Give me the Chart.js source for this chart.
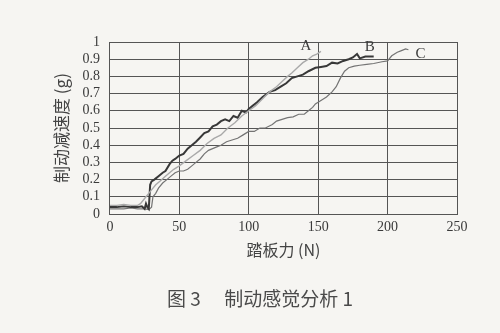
<!DOCTYPE html>
<html>
<head>
<meta charset="utf-8">
<script src="https://cdn.jsdelivr.net/npm/chart.js@4"></script>
<style>
  html, body { margin: 0; padding: 0; background: #f6f5f2; }
  #wrap { width: 500px; height: 333px; }
</style>
</head>
<body>
<div id="wrap"><canvas id="brakeChart"></canvas></div>
<script>
const ctx = document.querySelector("#brakeChart").getContext("2d")

const xTicks = [0, 50, 100, 150, 200, 250]
const yTicks = [0, 0.1, 0.2, 0.3, 0.4, 0.5, 0.6, 0.7, 0.8, 0.9, 1]
const caption = "图 3　 制动感觉分析 1"

// curve A (light grey)
const forceA = [0, 5, 10, 15, 20, 22, 24, 26, 28, 30, 33, 36, 40, 43, 46, 50, 55, 60, 65, 70, 75, 80, 85, 90, 95, 100, 105, 110, 115, 120, 124, 128, 131, 135, 139, 143, 146, 149, 152]
const decelA = [0.05, 0.05, 0.055, 0.05, 0.05, 0.06, 0.08, 0.1, 0.12, 0.14, 0.17, 0.19, 0.22, 0.24, 0.26, 0.28, 0.31, 0.34, 0.37, 0.41, 0.44, 0.46, 0.5, 0.53, 0.57, 0.6, 0.63, 0.67, 0.71, 0.74, 0.77, 0.8, 0.82, 0.85, 0.88, 0.9, 0.92, 0.93, 0.945]

// curve B (dark)
const forceB = [0, 5, 10, 15, 20, 23, 25, 26, 27, 28, 29, 30, 32, 35, 38, 40, 43, 45, 47, 50, 53, 56, 59, 62, 65, 68, 71, 74, 77, 80, 83, 86, 89, 92, 95, 98, 100, 103, 106, 110, 115, 119, 123, 127, 131, 135, 139, 143, 148, 152, 156, 160, 164, 168, 172, 175, 178, 180, 184, 190]
const decelB = [0.04, 0.04, 0.045, 0.04, 0.04, 0.045, 0.03, 0.06, 0.04, 0.03, 0.17, 0.19, 0.2, 0.22, 0.24, 0.25, 0.29, 0.31, 0.32, 0.34, 0.35, 0.38, 0.4, 0.42, 0.445, 0.47, 0.48, 0.51, 0.52, 0.54, 0.55, 0.54, 0.57, 0.56, 0.6, 0.59, 0.61, 0.63, 0.65, 0.68, 0.71, 0.72, 0.74, 0.76, 0.79, 0.8, 0.81, 0.83, 0.85, 0.855, 0.86, 0.88, 0.875, 0.89, 0.9, 0.91, 0.93, 0.905, 0.915, 0.915]

// curve C (mid grey)
const forceC = [0, 5, 10, 15, 20, 25, 28, 30, 31, 33, 35, 38, 41, 44, 47, 50, 53, 56, 59, 62, 65, 68, 71, 74, 77, 80, 84, 88, 92, 96, 100, 104, 108, 112, 117, 120, 124, 128, 132, 136, 140, 143, 146, 148, 152, 156, 160, 163, 166, 169, 172, 176, 180, 185, 190, 196, 200, 203, 207, 210, 213, 215]
const decelC = [0.03, 0.03, 0.03, 0.035, 0.03, 0.03, 0.025, 0.04, 0.1, 0.12, 0.15, 0.18, 0.2, 0.22, 0.24, 0.25, 0.25, 0.26, 0.28, 0.3, 0.32, 0.35, 0.37, 0.38, 0.39, 0.4, 0.42, 0.43, 0.44, 0.46, 0.48, 0.48, 0.5, 0.5, 0.52, 0.54, 0.55, 0.56, 0.565, 0.58, 0.58, 0.6, 0.62, 0.64, 0.66, 0.68, 0.71, 0.74, 0.79, 0.83, 0.85, 0.86, 0.865, 0.87, 0.875, 0.885, 0.89, 0.92, 0.94, 0.95, 0.96, 0.955]

const toPoints = (xs, ys) => xs.map((x, i) => ({ x: x, y: ys[i] }))

const serif = "'Liberation Serif', 'DejaVu Serif', serif"
const cjk = "'Noto Sans CJK SC', 'Noto Sans', sans-serif"

// A / B / C next to the line ends, caption under the chart
const labelOffsets = { A: [-15, -5], B: [-4, -10], C: [12, 4] }
const curveLabels = {
    id: "curveLabels",
    afterDatasetsDraw(chart) {
        const c = chart.ctx
        c.save()
        c.font = "15px " + serif
        c.fillStyle = "#3c3c3c"
        c.textAlign = "center"
        c.textBaseline = "middle"
        chart.data.datasets.forEach((ds, i) => {
            const pts = chart.getDatasetMeta(i).data
            const last = pts[pts.length - 1]
            const off = labelOffsets[ds.label]
            c.fillText(ds.label, last.x + off[0], last.y + off[1])
        })
        c.font = "19px " + cjk
        c.fillStyle = "#4a4a4a"
        c.fillText(caption, 260, 299)
        c.restore()
    }
}

new Chart(ctx, {
    type: "line",
    data: {
        datasets: [
            { label: "A", data: toPoints(forceA, decelA), borderColor: "#a9a9a9", borderWidth: 1.4 },
            { label: "B", data: toPoints(forceB, decelB), borderColor: "#383838", borderWidth: 2 },
            { label: "C", data: toPoints(forceC, decelC), borderColor: "#747474", borderWidth: 1.2 }
        ]
    },
    options: {
        responsive: true,
        maintainAspectRatio: false,
        animation: false,
        elements: { point: { radius: 0 }, line: { tension: 0 } },
        layout: { padding: { left: 44, right: 43, top: 42, bottom: 73 } },
        plugins: {
            legend: { display: false },
            tooltip: { enabled: false }
        },
        scales: {
            x: {
                type: "linear",
                min: xTicks[0],
                max: xTicks[xTicks.length - 1],
                afterBuildTicks: axis => { axis.ticks = xTicks.map(v => ({ value: v })) },
                grid: { color: "#555", lineWidth: 1, drawTicks: false },
                border: { color: "#555" },
                ticks: { color: "#3a3a3a", padding: 5, autoSkip: false, maxRotation: 0, font: { family: serif, size: 14 } },
                title: {
                    display: true,
                    text: "踏板力 (N)",
                    color: "#444",
                    font: { family: cjk, size: 16 },
                    padding: { top: 0, bottom: 0 }
                }
            },
            y: {
                min: 0,
                max: 1,
                afterBuildTicks: axis => { axis.ticks = yTicks.map(v => ({ value: v })) },
                grid: { color: "#555", lineWidth: 1, drawTicks: false },
                border: { color: "#555" },
                ticks: {
                    color: "#3a3a3a",
                    padding: 10,
                    autoSkip: false,
                    font: { family: serif, size: 14 },
                    callback: v => (v === 0 || v === 1) ? String(v) : v.toFixed(1)
                },
                title: {
                    display: true,
                    text: "制动减速度 (g)",
                    color: "#444",
                    font: { family: cjk, size: 17 },
                    padding: { top: 7, bottom: 1 }
                }
            }
        }
    },
    plugins: [curveLabels]
})
</script>
</body>
</html>
